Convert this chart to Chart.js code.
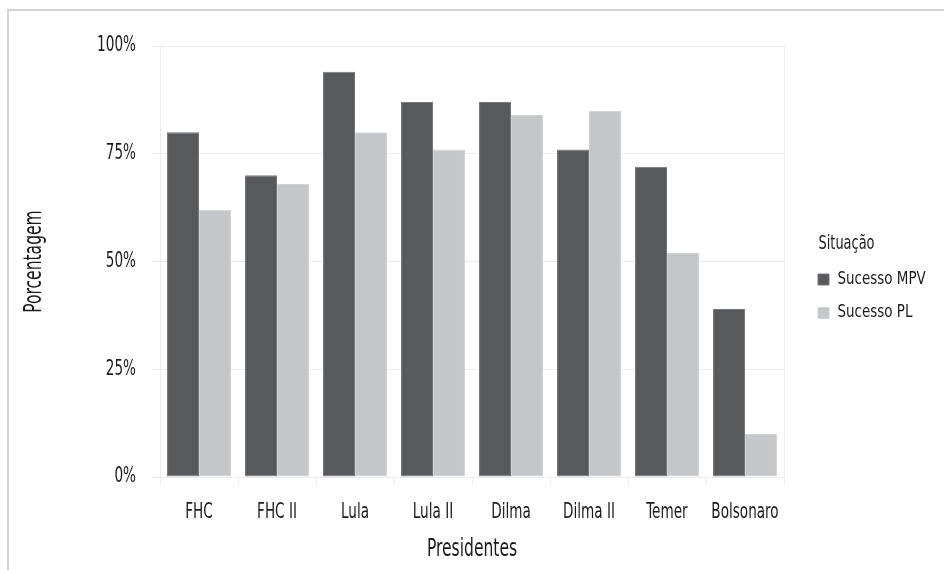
<!DOCTYPE html>
<html>
<head>
<meta charset="utf-8">
<script src="https://cdn.jsdelivr.net/npm/chart.js@4/dist/chart.umd.min.js"></script>
<style>
  html, body { margin: 0; padding: 0; background: #ffffff; }
  #wrap { position: relative; width: 944px; height: 570px; overflow: hidden; }
  #frame { position: absolute; left: 7px; top: 9px; right: -10px; bottom: -10px;
           border-top: 2px solid #d2d2d2; border-left: 2px solid #d2d2d2; pointer-events: none; }
  canvas { position: absolute; left: 0; top: 0; }
</style>
</head>
<body>
<div id="wrap">
  <canvas id="chart" width="944" height="570"></canvas>
  <div id="frame"></div>
</div>
<script>
// Presidential terms and legislative success rates (%)
const presidentes = ['FHC', 'FHC II', 'Lula', 'Lula II', 'Dilma', 'Dilma II', 'Temer', 'Bolsonaro'];
const sucessoMPV = [80, 70, 94, 87, 87, 76, 72, 39];
const sucessoPL  = [62, 68, 80, 76, 84, 85, 52, 10];
const yTicks = [0, 25, 50, 75, 100];

const FONT = "'DejaVu Sans Condensed', 'DejaVu Sans', sans-serif";
const INK = '#1b1b1b';
const GRID = '#ececec';

// Narrow the glyphs horizontally so the labels read as a tall condensed face.
const squeezeText = {
  id: 'squeezeText',
  beforeInit(chart) {
    const ctx = chart.ctx;
    const fill = ctx.fillText.bind(ctx);
    ctx.fillText = function (text, x, y) {
      const m = /(\d+(?:\.\d+)?)px/.exec(ctx.font);
      const size = m ? parseFloat(m[1]) : 12;
      const k = size < 18.5 ? 0.88 : 0.72;
      const w = ctx.measureText(text).width;
      fill(text, x, y, Math.max(1, w * k));
    };
  }
};

// Line the legend title up with the key swatches (title is centred on this width).
const LEGEND_TITLE_SPAN = 90;
const legendTitleAlign = {
  id: 'legendTitleAlign',
  afterLayout(chart) {
    if (chart.legend) chart.legend.width = LEGEND_TITLE_SPAN;
  }
};

new Chart(document.getElementById('chart'), {
  type: 'bar',
  data: {
    labels: presidentes,
    datasets: [
      { label: 'Sucesso MPV', data: sucessoMPV, backgroundColor: '#58595b',
        borderColor: '#76777a', borderWidth: 1, borderSkipped: false },
      { label: 'Sucesso PL', data: sucessoPL, backgroundColor: '#c5c6c8',
        borderColor: '#d2d3d4', borderWidth: 1, borderSkipped: false }
    ]
  },
  options: {
    responsive: false,
    animation: false,
    categoryPercentage: 0.82,
    barPercentage: 1.0,
    layout: { padding: { left: 18, top: 46, right: 12.5, bottom: 0 } },
    plugins: {
      tooltip: { enabled: false },
      legend: {
        position: 'right',
        align: 'start',
        maxWidth: 130,
        title: { display: true, text: 'Situação', position: 'center',
                 color: INK, font: { family: FONT, size: 20, lineHeight: 1 },
                 padding: { top: 188, bottom: 0.5 } },
        labels: { color: INK, font: { family: FONT, size: 17, lineHeight: 1 },
                  boxWidth: 11, boxHeight: 11, padding: 16.5 }
      }
    },
    scales: {
      x: {
        offset: true,
        afterFit(scale) { scale.height = 93; },
        grid: { offset: true, drawOnChartArea: false, color: GRID, tickLength: 8 },
        border: { display: true, color: GRID },
        ticks: { color: INK, font: { family: FONT, size: 21 }, padding: 15.4,
                 autoSkip: false, maxRotation: 0, minRotation: 0 },
        title: { display: true, text: 'Presidentes', color: INK,
                 font: { family: FONT, size: 24 }, padding: { top: 0, bottom: 5.6 } }
      },
      y: {
        min: 0, max: 100,
        afterBuildTicks(scale) { scale.ticks = yTicks.map(v => ({ value: v })); },
        afterFit(scale) { scale.width = 142; },
        grid: { color: GRID, tickLength: 8 },
        border: { display: true, color: GRID },
        ticks: { color: INK, font: { family: FONT, size: 21 }, padding: 16, callback: v => v + '%' },
        title: { display: true, text: 'Porcentagem', color: INK,
                 font: { family: FONT, size: 24 }, padding: { top: 2.6, bottom: 0 } }
      },
      y2: {
        position: 'right',
        min: 0, max: 100,
        afterFit(scale) { scale.width = 17.5; },
        grid: { display: false, drawTicks: false },
        ticks: { display: false },
        border: { display: true, color: GRID }
      }
    }
  },
  plugins: [squeezeText, legendTitleAlign]
});
</script>
</body>
</html>
